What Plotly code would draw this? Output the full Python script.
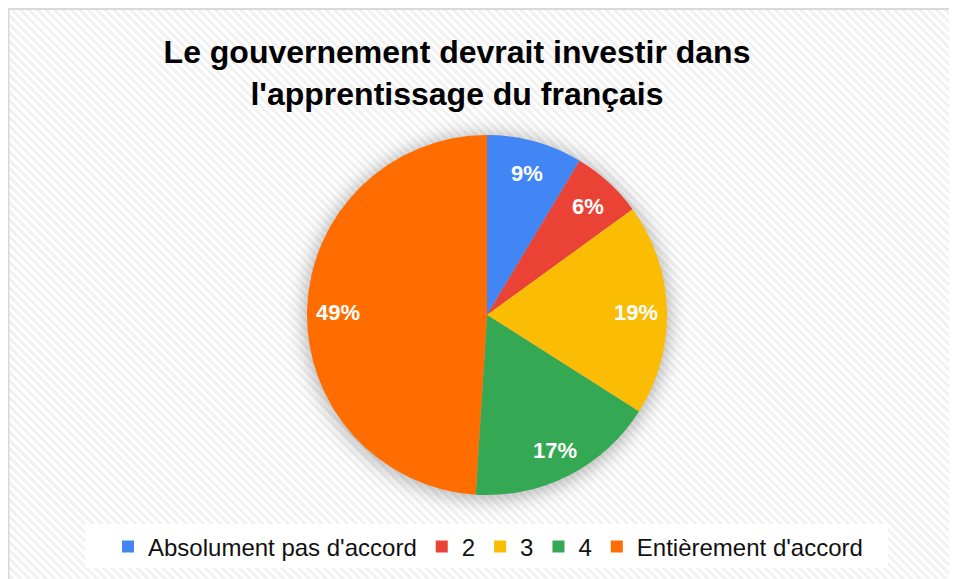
import base64
import math
import plotly.graph_objects as go

# figure sits inside the page's 8px body margin
W, H = 949, 571

# data
labels = ["Absolument pas d'accord", "2", "3", "4", "Entièrement d'accord"]
values = [8.6, 6.4, 19.0, 17.0, 49.0]
colors = ["#4285F4", "#EA4335", "#FBBC04", "#34A853", "#FF6D01"]
title_lines = ["Le gouvernement devrait investir dans", "l'apprentissage du français"]

FONT = "Arial, Liberation Sans, sans-serif"

# pie placement (pixels, figure coords)
cx, cy, r = 479, 307, 180
label_r = 0.83

# background: hatched fill + soft shadow under the pie + left/top border
svg = f"""<svg xmlns="http://www.w3.org/2000/svg" width="{W}" height="{H}" viewBox="0 0 {W} {H}">
<defs>
<pattern id="p" width="6" height="6" patternUnits="userSpaceOnUse" patternTransform="rotate(-45)">
<rect width="6" height="6" fill="#ffffff"/><rect width="3" height="6" fill="#f1f1f1"/>
</pattern>
<filter id="b" x="-30%" y="-30%" width="160%" height="160%"><feGaussianBlur stdDeviation="9"/></filter>
</defs>
<rect width="{W}" height="{H}" fill="url(#p)"/>
<circle cx="{cx}" cy="{cy + 2}" r="{r + 3}" fill="#000" fill-opacity="0.27" filter="url(#b)"/>
<line x1="0" y1="1" x2="{W}" y2="1" stroke="#d9d9d9" stroke-width="2"/>
<line x1="0" y1="0" x2="0" y2="{H}" stroke="#d9d9d9" stroke-width="3"/>
</svg>"""
bg_src = "data:image/svg+xml;base64," + base64.b64encode(svg.encode()).decode()

fig = go.Figure(
    go.Pie(
        labels=labels,
        values=values,
        sort=False,
        direction="clockwise",
        rotation=0,
        marker=dict(colors=colors, line=dict(width=0)),
        textinfo="none",
        hoverinfo="label+percent",
        domain=dict(x=[(cx - r) / W, (cx + r) / W], y=[1 - (cy + r) / H, 1 - (cy - r) / H]),
    )
)

# percentage labels placed at the middle angle of each slice
total = sum(values)
cum = 0
for v in values:
    mid = (cum + v / 2) / total * 2 * math.pi
    cum += v
    px = cx + label_r * r * math.sin(mid)
    py = cy - label_r * r * math.cos(mid) + 2
    fig.add_annotation(
        x=px / W,
        y=1 - py / H,
        xref="paper",
        yref="paper",
        text=f"{round(v / total * 100)}%",
        showarrow=False,
        xanchor="center",
        yanchor="middle",
        font=dict(family=FONT, size=22, color="white", weight="bold"),
    )

fig.update_layout(
    width=W,
    height=H,
    margin=dict(l=0, r=0, t=0, b=0),
    paper_bgcolor="white",
    plot_bgcolor="white",
    font=dict(family=FONT, color="#222222"),
    title=dict(
        text="<br>".join(title_lines),
        x=449 / W,
        xanchor="center",
        y=1 - 55 / H,
        yanchor="top",
        font=dict(family=FONT, size=32, color="black", weight="bold"),
    ),
    legend=dict(
        orientation="h",
        x=480 / W,
        xanchor="center",
        y=1 - 539 / H,
        yanchor="middle",
        bgcolor="rgba(0,0,0,0)",
        font=dict(family=FONT, size=24, color="#111111"),
        itemclick=False,
    ),
    images=[
        dict(
            source=bg_src,
            xref="paper",
            yref="paper",
            x=0,
            y=1,
            sizex=1,
            sizey=1,
            sizing="stretch",
            layer="below",
        )
    ],
    shapes=[
        dict(
            type="rect",
            xref="paper",
            yref="paper",
            x0=77 / W,
            x1=880 / W,
            y0=1 - 560 / H,
            y1=1 - 516 / H,
            fillcolor="white",
            line=dict(width=0),
            layer="below",
        )
    ],
)

fig.write_html("out.html")
